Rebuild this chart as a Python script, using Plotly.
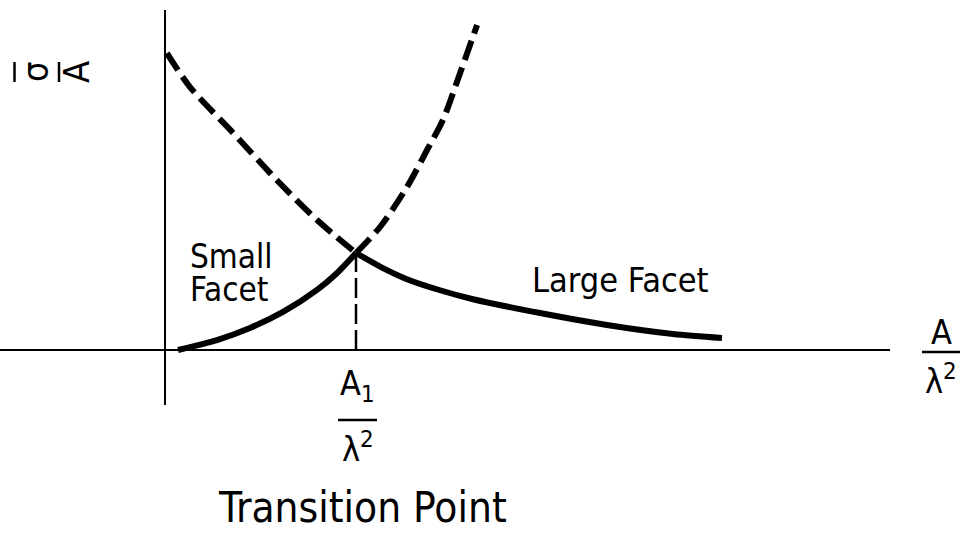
import plotly.graph_objects as go

# sigma/A of a large facet versus A/lambda^2; dashed where extrapolated below the transition
large_dash_x = [0.01, 0.131, 0.356, 0.586, 0.796, 1.0]
large_dash_y = [3.06, 2.71, 2.24, 1.75, 1.34, 1.0]
large_solid_x = [1.0, 1.131, 1.267, 1.440, 1.613, 1.963, 2.314, 2.660, 2.916]
large_solid_y = [1.0, 0.855, 0.730, 0.616, 0.523, 0.381, 0.258, 0.165, 0.124]

# sigma/A of a small facet; dashed where extrapolated above the transition
small_solid_x = [0.068, 0.272, 0.445, 0.618, 0.796, 0.901, 1.0]
small_solid_y = [0.0, 0.103, 0.227, 0.392, 0.619, 0.794, 1.0]
small_dash_x = [1.0, 1.126, 1.267, 1.372, 1.455, 1.545, 1.634]
small_dash_y = [1.0, 1.268, 1.680, 2.062, 2.371, 2.856, 3.351]

# transition point A1/lambda^2 where both curves meet
transition_x = [1.0, 1.0]
transition_y = [0.0, 1.0]

W, H = 968, 533
ORIGIN_PX = (165, 350)   # where the two axes cross
UNIT_PX = (191, 97)      # pixels per data unit


def dx(px):
    return (px - ORIGIN_PX[0]) / UNIT_PX[0]


def dy(py):
    return (ORIGIN_PX[1] - py) / UNIT_PX[1]


FONT = "DejaVu Sans Condensed, Liberation Sans Narrow, Arial Narrow, sans-serif"
INK = "black"

fig = go.Figure()

dash_style = dict(color=INK, width=6, dash="20px,8px")
solid_style = dict(color=INK, width=6)

fig.add_trace(go.Scatter(x=large_dash_x, y=large_dash_y, mode="lines",
                         line=dict(shape="spline", smoothing=0.8, **dash_style)))
fig.add_trace(go.Scatter(x=large_solid_x, y=large_solid_y, mode="lines",
                         line=dict(shape="spline", smoothing=0.8, **solid_style)))
fig.add_trace(go.Scatter(x=small_solid_x, y=small_solid_y, mode="lines",
                         line=dict(shape="spline", smoothing=0.8, **solid_style)))
fig.add_trace(go.Scatter(x=small_dash_x, y=small_dash_y, mode="lines",
                         line=dict(shape="spline", smoothing=0.8, **dash_style)))
fig.add_trace(go.Scatter(x=transition_x, y=transition_y, mode="lines",
                         line=dict(color=INK, width=2.5, dash="20px,6px")))

# hand-drawn style axes
fig.add_shape(type="line", x0=0, x1=0, y0=dy(405), y1=dy(10),
              line=dict(color=INK, width=2))
fig.add_shape(type="line", x0=dx(0), x1=dx(890), y0=0, y1=0,
              line=dict(color=INK, width=2))


def label(text, px, py, size, anchor="center", angle=0):
    fig.add_annotation(x=dx(px), y=dy(py), text=text, showarrow=False,
                       xanchor=anchor, yanchor="middle", textangle=angle,
                       font=dict(family=FONT, size=size, color=INK))


def bar(px0, px1, py):
    fig.add_shape(type="line", x0=dx(px0), x1=dx(px1), y0=dy(py), y1=dy(py),
                  line=dict(color=INK, width=2.5))


def vbar(px, py0, py1):
    fig.add_shape(type="line", x0=dx(px), x1=dx(px), y0=dy(py0), y1=dy(py1),
                  line=dict(color=INK, width=2.5))


# y-axis title: sigma-bar over A, written sideways
label("σ", 35, 72, 36, angle=-90)
label("A", 76, 72, 36, angle=-90)
vbar(14.5, 62, 82)
vbar(59, 62, 82)

# x-axis title A / lambda^2
label("A", 941, 332, 34)
bar(922, 960, 352)
label("λ<sup>2</sup>", 941, 379, 34)

# transition point A1 / lambda^2
label("A<sub>1</sub>", 357, 385, 34)
bar(338, 377, 420)
label("λ<sup>2</sup>", 358, 447, 34)
label("Transition Point", 362, 507, 42)

# curve names
label("Small", 188, 256, 33, anchor="left")
label("Facet", 188, 289, 33, anchor="left")
label("Large Facet", 530, 280, 34, anchor="left")

fig.update_layout(
    width=W, height=H,
    margin=dict(l=0, r=0, t=0, b=0),
    showlegend=False,
    paper_bgcolor="white", plot_bgcolor="white",
    xaxis=dict(range=[dx(0), dx(W)], visible=False, fixedrange=True),
    yaxis=dict(range=[dy(H), dy(0)], visible=False, fixedrange=True),
)

fig.write_html("out.html")
